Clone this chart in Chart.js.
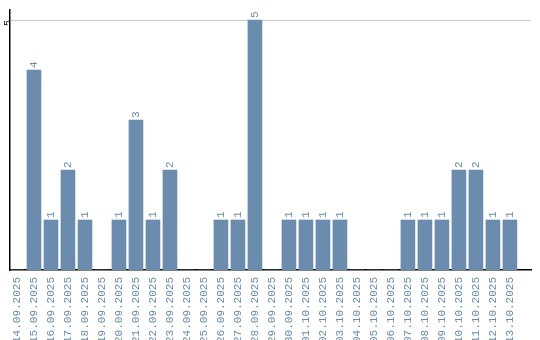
<!DOCTYPE html>
<html>
<head>
<meta charset="utf-8">
<script src="https://cdn.jsdelivr.net/npm/chart.js@4"></script>
<style>
  html, body { margin: 0; padding: 0; background: #fff; overflow: hidden; }
  #wrap { width: 540px; height: 340px; }
</style>
</head>
<body>
<div id="wrap"><canvas id="countChart"></canvas></div>
<script>
// days shown on the x axis
const days = ['14.09.2025', '15.09.2025', '16.09.2025', '17.09.2025', '18.09.2025', '19.09.2025',
  '20.09.2025', '21.09.2025', '22.09.2025', '23.09.2025', '24.09.2025', '25.09.2025',
  '26.09.2025', '27.09.2025', '28.09.2025', '29.09.2025', '30.09.2025', '01.10.2025',
  '02.10.2025', '03.10.2025', '04.10.2025', '05.10.2025', '06.10.2025', '07.10.2025',
  '08.10.2025', '09.10.2025', '10.10.2025', '11.10.2025', '12.10.2025', '13.10.2025'];
// counts per day
const counts = [0, 4, 1, 2, 1, 0, 1, 3, 1, 2, 0, 0, 1, 1, 5, 0, 1, 1, 1, 1, 0, 0, 0, 1, 1, 1, 2, 2, 1, 1];
// only tick shown on the value axis
const yTicks = [5];

const labelColor = '#6a8cae';

// small plugin: writes the value above each bar, turned upright
const barValues = {
  id: 'barValues',
  afterDatasetsDraw(chart) {
    const ctx = chart.ctx;
    const meta = chart.getDatasetMeta(0);
    ctx.save();
    ctx.fillStyle = labelColor;
    ctx.font = '11px "Liberation Mono"';
    ctx.textAlign = 'left';
    ctx.textBaseline = 'middle';
    meta.data.forEach(function(bar, i) {
      const v = counts[i];
      if (!v) return;
      ctx.save();
      ctx.translate(bar.x, bar.y - 2);
      ctx.rotate(-Math.PI / 2);
      ctx.fillText(String(v), 0, 0);
      ctx.restore();
    });
    ctx.restore();
  }
};

document.addEventListener("DOMContentLoaded", function() {
  const ctx = document.getElementById('countChart').getContext('2d');
  new Chart(ctx, {
    type: 'bar',
    data: {
      labels: days,
      datasets: [{
        data: counts.map(function(v, i) { return { x: i, y: v }; }),
        backgroundColor: '#6b8cad',
        barThickness: 14
      }]
    },
    options: {
      responsive: true,
      maintainAspectRatio: false,
      animation: false,
      layout: { padding: { top: 10, right: 9, left: 0, bottom: 0 } },
      plugins: {
        legend: { display: false },
        tooltip: { enabled: false }
      },
      scales: {
        x: {
          type: 'linear',
          min: -0.41,
          max: 30.24,
          offset: false,
          afterBuildTicks: function(axis) {
            axis.ticks = days.map(function(d, i) { return { value: i }; });
          },
          afterFit: function(axis) { axis.height = 70; },
          grid: { display: false, drawTicks: false, offset: false },
          border: { color: '#000', width: 1.5 },
          ticks: {
            color: labelColor,
            font: { family: 'Liberation Mono', size: 11 },
            minRotation: 90,
            maxRotation: 90,
            autoSkip: false,
            padding: 7,
            callback: function(value) { return days[value]; }
          }
        },
        y: {
          min: 0,
          max: 5.2,
          afterBuildTicks: function(axis) {
            axis.ticks = yTicks.map(function(v) { return { value: v }; });
          },
          afterFit: function(axis) { axis.width = 10; },
          grid: { color: '#cccccc', drawTicks: false },
          border: { color: '#000', width: 1.5 },
          ticks: {
            color: '#000',
            font: { family: 'Liberation Mono', size: 10 },
            minRotation: 90,
            maxRotation: 90,
            padding: 2
          }
        }
      }
    },
    plugins: [barValues]
  });
});
</script>
</body>
</html>
